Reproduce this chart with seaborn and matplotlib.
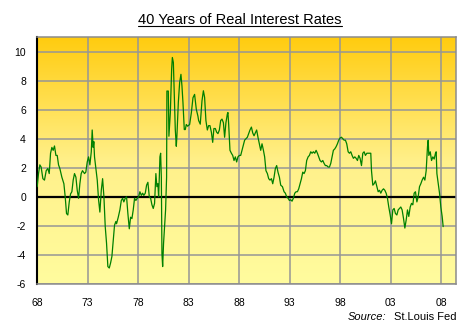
import numpy as np
import pandas as pd
import matplotlib
matplotlib.use("Agg")
import matplotlib.pyplot as plt
from matplotlib.colors import LinearSegmentedColormap
from matplotlib.lines import Line2D
import seaborn as sns

# Real interest rate (%), sampled by decimal year
years_68_75 = [1968.02, 1968.15, 1968.28, 1968.41, 1968.58, 1968.74, 1968.91, 1969.07, 1969.21, 1969.34,
               1969.47, 1969.60, 1969.73, 1969.87, 1970.00, 1970.13, 1970.26, 1970.46, 1970.66, 1970.79,
               1970.92, 1971.05, 1971.19, 1971.32, 1971.45, 1971.58, 1971.71, 1971.85, 1971.98, 1972.11,
               1972.24, 1972.37, 1972.50, 1972.70, 1972.83, 1972.97, 1973.10, 1973.23, 1973.37, 1973.46,
               1973.56, 1973.62, 1973.69, 1973.82, 1973.96, 1974.09, 1974.22, 1974.36, 1974.49, 1974.62,
               1974.75, 1974.88, 1975.01, 1975.15, 1975.28, 1975.41, 1975.54, 1975.67, 1975.80]
rate_68_75 = [0.7, 1.6, 2.2, 2.05, 1.25, 1.15, 1.8, 1.95, 1.6, 3.0,
              3.4, 3.2, 3.5, 2.85, 2.85, 2.2, 1.95, 1.35, 0.9, 0.0,
              -1.15, -1.25, -0.35, 0.2, 0.35, 1.15, 1.6, 1.35, 0.45, -0.1,
              0.9, 1.6, 1.8, 1.6, 1.7, 2.4, 2.75, 2.2, 3.1, 4.6,
              3.4, 3.8, 2.75, 1.95, 1.15, -0.2, -1.05, 0.45, 1.25, 0.0,
              -2.05, -3.2, -4.8, -4.9, -4.55, -4.1, -3.0, -1.95, -1.7]

years_76_80 = [1975.87, 1976.04, 1976.20, 1976.34, 1976.47, 1976.59, 1976.73, 1976.86, 1976.99, 1977.13,
               1977.26, 1977.39, 1977.52, 1977.65, 1977.78, 1977.92, 1978.05, 1978.18, 1978.32, 1978.45,
               1978.57, 1978.71, 1978.84, 1978.97, 1979.11, 1979.24, 1979.37, 1979.50, 1979.63, 1979.76,
               1979.86, 1979.96, 1980.03, 1980.10, 1980.16, 1980.23, 1980.30, 1980.36, 1980.43, 1980.52,
               1980.62, 1980.72, 1980.82]
rate_76_80 = [-1.85, -1.4, -0.9, -0.25, -0.1, -0.35, -0.1, 0.0, -1.15, -2.2,
              -1.4, -1.5, -0.9, -0.1, -0.25, -0.1, 0.0, 0.35, 0.1, 0.25,
              0.1, 0.25, 0.8, 1.0, 0.0, -0.1, -0.55, -0.8, -0.45, 1.6,
              0.7, 0.9, 0.0, 1.35, 2.75, 3.0, 1.35, -3.9, -4.8, -3.2,
              -2.05, -0.9, 1.35]

years_81_83 = [1980.85, 1980.99, 1981.05, 1981.19, 1981.32, 1981.39, 1981.49, 1981.58, 1981.68, 1981.78,
               1981.84, 1981.98, 1982.11, 1982.24, 1982.34, 1982.44, 1982.57, 1982.67, 1982.77, 1982.90,
               1983.10, 1983.27, 1983.43, 1983.59, 1983.76, 1983.92]
rate_81_83 = [7.28, 7.28, 4.17, 5.79, 8.78, 9.59, 9.24, 6.93, 4.63, 3.48,
              4.17, 6.48, 7.86, 8.43, 7.63, 6.48, 4.63, 4.63, 4.98, 4.86,
              4.98, 5.79, 6.82, 7.05, 6.02, 5.55]

years_84_91 = [1983.99, 1984.15, 1984.32, 1984.46, 1984.58, 1984.71, 1984.85, 1984.98, 1985.11, 1985.25,
               1985.38, 1985.50, 1985.64, 1985.77, 1985.90, 1986.04, 1986.17, 1986.30, 1986.44, 1986.56,
               1986.69, 1986.83, 1986.89, 1986.96, 1987.09, 1987.23, 1987.36, 1987.49, 1987.62, 1987.75,
               1987.88, 1988.02, 1988.15, 1988.28, 1988.42, 1988.54, 1988.67, 1988.81, 1988.94, 1989.07,
               1989.21, 1989.34, 1989.47, 1989.60, 1989.73, 1989.86, 1990.00, 1990.13, 1990.26, 1990.40,
               1990.52, 1990.65, 1990.79, 1990.92, 1991.05, 1991.19, 1991.32, 1991.45, 1991.58, 1991.71,
               1991.84, 1991.98, 1992.11]
rate_84_91 = [5.25, 5.0, 6.6, 7.3, 6.85, 5.25, 4.6, 4.9, 4.9, 4.45,
              3.75, 4.7, 4.7, 4.45, 4.35, 4.6, 5.25, 5.35, 5.1, 4.1,
              5.1, 5.7, 5.8, 5.0, 3.2, 3.0, 2.85, 2.5, 2.75, 2.4,
              2.75, 2.85, 2.85, 3.2, 3.55, 3.9, 4.0, 4.1, 4.35, 4.6,
              4.8, 4.4, 4.2, 4.4, 4.6, 4.1, 3.65, 3.2, 3.65, 3.2,
              2.75, 1.8, 1.6, 1.25, 1.15, 1.25, 0.9, 1.35, 1.95, 2.15,
              1.7, 1.35, 0.8]

years_92_99 = [1992.28, 1992.44, 1992.57, 1992.70, 1992.84, 1992.97, 1993.10, 1993.23, 1993.36, 1993.50,
               1993.63, 1993.76, 1993.89, 1994.02, 1994.16, 1994.29, 1994.42, 1994.55, 1994.68, 1994.82,
               1994.95, 1995.08, 1995.21, 1995.34, 1995.48, 1995.61, 1995.74, 1995.87, 1996.00, 1996.14,
               1996.27, 1996.40, 1996.53, 1996.66, 1996.80, 1996.93, 1997.06, 1997.19, 1997.32, 1997.46,
               1997.59, 1997.72, 1997.85, 1997.98, 1998.12, 1998.25, 1998.38, 1998.51, 1998.64, 1998.78,
               1998.91, 1999.04, 1999.17, 1999.30, 1999.44, 1999.57, 1999.70, 1999.83, 1999.96, 2000.10,
               2000.23]
rate_92_99 = [0.7, 0.35, 0.25, 0.0, -0.1, -0.25, -0.2, -0.3, -0.1, 0.25,
              0.35, 0.35, 0.55, 0.9, 1.25, 1.7, 1.6, 1.8, 2.5, 2.75,
              2.85, 3.1, 3.0, 3.1, 3.0, 3.2, 3.0, 2.75, 2.5, 2.4,
              2.5, 2.3, 2.15, 2.15, 2.05, 2.05, 2.3, 2.75, 3.2, 3.3,
              3.45, 3.65, 3.9, 4.05, 4.1, 4.0, 3.9, 3.9, 3.65, 3.1,
              3.0, 3.1, 2.85, 2.65, 2.75, 2.65, 2.5, 2.85, 2.65, 2.15,
              3.0]

years_00_08 = [2000.36, 2000.49, 2000.63, 2000.76, 2000.89, 2001.02, 2001.09, 2001.22, 2001.35, 2001.48,
               2001.62, 2001.75, 2001.88, 2002.01, 2002.14, 2002.28, 2002.41, 2002.54, 2002.67, 2002.80,
               2002.94, 2003.07, 2003.20, 2003.33, 2003.46, 2003.60, 2003.73, 2003.86, 2003.99, 2004.12,
               2004.26, 2004.39, 2004.52, 2004.65, 2004.78, 2004.92, 2005.05, 2005.18, 2005.31, 2005.44,
               2005.58, 2005.71, 2005.84, 2005.97, 2006.10, 2006.24, 2006.37, 2006.50, 2006.57, 2006.63,
               2006.70, 2006.76, 2006.90, 2007.03, 2007.16, 2007.29, 2007.42, 2007.49, 2007.56, 2007.69,
               2007.82, 2007.95, 2008.08, 2008.18]
rate_00_08 = [3.1, 2.85, 3.0, 3.0, 3.0, 3.0, 1.8, 0.8, 0.9, 1.1,
              0.7, 0.35, 0.45, 0.25, 0.45, 0.55, 0.45, 0.25, -0.1, -0.7,
              -1.25, -1.85, -0.9, -0.8, -1.15, -1.25, -0.9, -0.8, -0.7, -0.9,
              -1.5, -2.15, -1.6, -0.9, -1.35, -0.7, -0.45, -0.55, 0.25, 0.35,
              -0.35, 0.0, 0.7, 0.9, 1.15, 1.35, 1.15, 1.8, 2.75, 3.45,
              3.9, 2.85, 3.1, 2.5, 2.75, 2.6, 3.0, 3.1, 1.6, 0.9,
              0.25, -0.7, -1.35, -2.05]

tick_years = [1968, 1973, 1978, 1983, 1988, 1993, 1998, 2003, 2008]
tick_labels = ["68", "73", "78", "83", "88", "93", "98", "03", "08"]
y_ticks = [-6, -4, -2, 0, 2, 4, 6, 8, 10]

title_text = "40 Years of Real Interest Rates"
source_label = "Source:"
source_name = "St.Louis Fed"

df = pd.DataFrame({
    "year": years_68_75 + years_76_80 + years_81_83 + years_84_91 + years_92_99 + years_00_08,
    "rate": rate_68_75 + rate_76_80 + rate_81_83 + rate_84_91 + rate_92_99 + rate_00_08,
})

sns.set_style("white")
plt.rcParams["font.family"] = ["Liberation Sans", "DejaVu Sans"]

W, H = 474, 332
fig = plt.figure(figsize=(W / 100, H / 100), dpi=100)
fig.patch.set_facecolor("white")
ax = fig.add_axes([37 / W, 1 - 284 / H, (456 - 37) / W, (284 - 37) / H])

xmin, xmax = 1968.0, 2009.45
ymin, ymax = -6, 11

# vertical gold-to-pale-yellow gradient behind the plot
grad_cmap = LinearSegmentedColormap.from_list("gold", ["#FFFC9E", "#FFF08A", "#FFCC0F"])
ax.imshow(np.linspace(0, 1, 256).reshape(-1, 1), extent=[xmin, xmax, ymin, ymax],
          origin="lower", aspect="auto", cmap=grad_cmap, zorder=-2, interpolation="bicubic")

ax.set_axisbelow(True)
ax.grid(True, color="#969696", lw=1.1, zorder=-1)
ax.axhline(0, color="black", lw=1.6, zorder=2)

sns.lineplot(data=df, x="year", y="rate", ax=ax, color="#008000", lw=0.9,
             estimator=None, sort=False, zorder=3)

ax.set_xlim(xmin, xmax)
ax.set_ylim(ymin, ymax)
ax.set_xticks(tick_years)
ax.set_xticklabels(tick_labels)
ax.set_yticks(y_ticks)
ax.set_yticklabels([str(v) for v in y_ticks])
ax.tick_params(axis="both", length=0, labelsize=7.5, colors="black")
ax.tick_params(axis="y", pad=8)
ax.tick_params(axis="x", pad=10)
ax.set_xlabel("")
ax.set_ylabel("")

for side in ("top", "right", "bottom"):
    ax.spines[side].set_color("#8C8C8C")
    ax.spines[side].set_linewidth(1.1)
    ax.spines[side].set_visible(True)
ax.spines["left"].set_color("black")
ax.spines["left"].set_linewidth(1.5)
ax.spines["left"].set_visible(True)

# underlined title
title = fig.text(240 / W, 1 - 24 / H, title_text, ha="center", va="baseline",
                 fontsize=10.5, color="black")
fig.canvas.draw()
bb = title.get_window_extent()
uy = 1 - 25.8 / H
fig.add_artist(Line2D([bb.x0 / W, bb.x1 / W], [uy, uy], color="black", lw=0.8,
                      transform=fig.transFigure))

# source note, right aligned under the plot
name_t = fig.text(456 / W, 1 - 320.5 / H, source_name, ha="right", va="baseline",
                  fontsize=8, color="black")
fig.canvas.draw()
nb = name_t.get_window_extent()
fig.text((nb.x0 - 7) / W, 1 - 320.5 / H, source_label, ha="right", va="baseline",
         fontsize=8, style="italic", color="black")

fig.savefig("out.png", dpi=100, facecolor="white")
